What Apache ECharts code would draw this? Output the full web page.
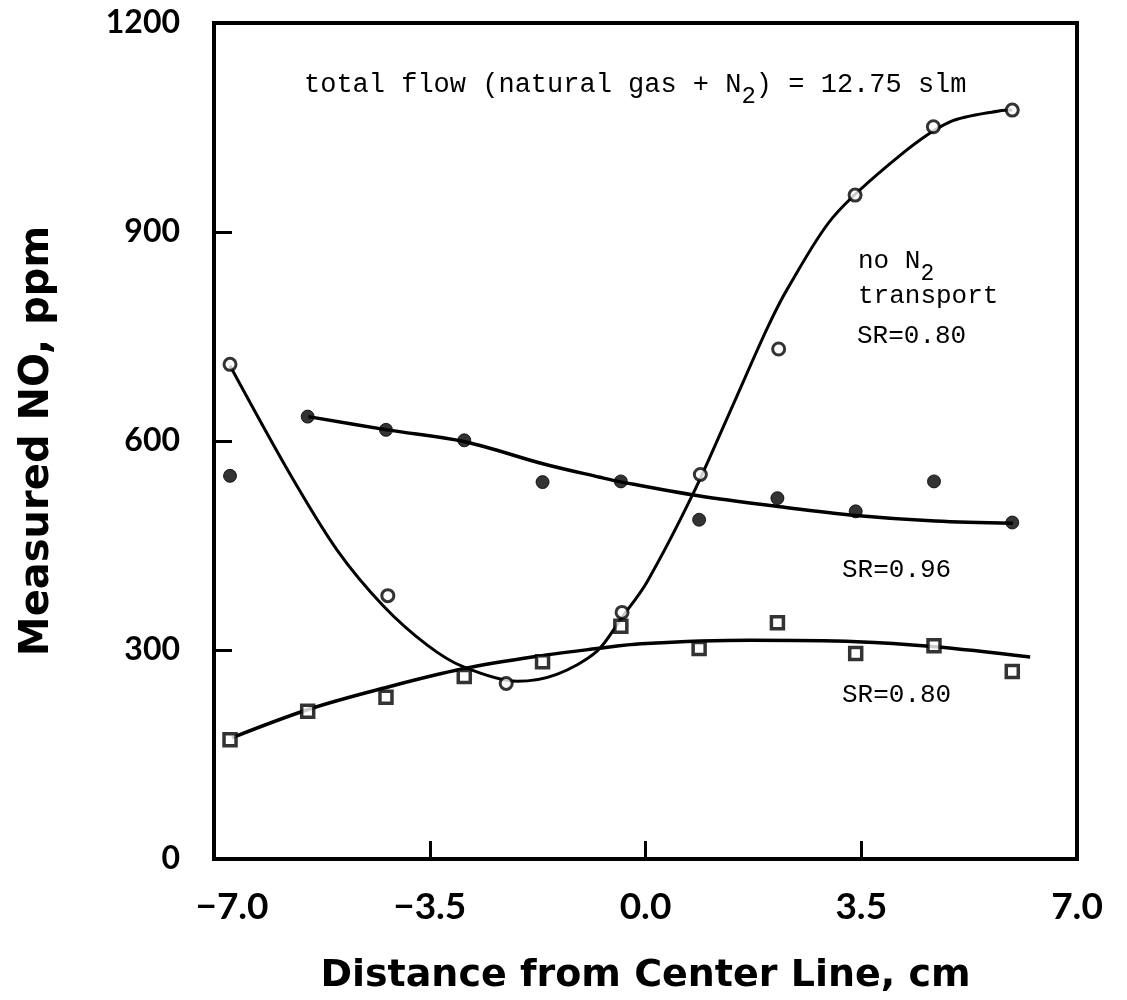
<!DOCTYPE html>
<html>
<head>
<meta charset="utf-8">
<script src="https://cdn.jsdelivr.net/npm/echarts@6/dist/echarts.min.js"></script>
<style>
  html, body { margin: 0; padding: 0; background: #fff; }
  #chart { width: 1127px; height: 1000px; }
</style>
</head>
<body>
<div id="chart"></div>
<script>
// Axis ticks
const xTicks = [-7.0, -3.5, 0.0, 3.5, 7.0];
const yTicks = [0, 300, 600, 900, 1200];

// Measured points: no N2 transport, SR = 0.80 (open circles)
const noN2X = [-6.74, -4.18, -2.26, -0.38, 0.89, 2.16, 3.40, 4.67, 5.95];
const noN2Y = [710, 378, 252, 354, 552, 732, 953, 1051, 1075];

// Measured points: SR = 0.96 (filled circles)
const sr096X = [-6.74, -5.48, -4.21, -2.94, -1.67, -0.40, 0.87, 2.14, 3.41, 4.68, 5.95];
const sr096Y = [550, 635, 616, 601, 541, 542, 487, 518, 499, 542, 483];

// Measured points: SR = 0.80 (open squares)
const sr080X = [-6.74, -5.48, -4.21, -2.94, -1.67, -0.40, 0.87, 2.14, 3.41, 4.68, 5.95];
const sr080Y = [171, 212, 232, 262, 283, 334, 302, 339, 295, 306, 269];

// Hand-drawn fit curves through each data set
const noN2FitX = [-6.74, -5.77, -5.00, -4.26, -3.54, -2.96, -2.08, -1.44, -0.79, -0.38, 0.02, 0.77, 1.42, 1.97, 2.30, 3.04, 4.13, 4.94, 5.75, 5.95];
const noN2FitY = [708, 553, 443, 364, 307, 276, 255, 265, 298, 347, 397, 524, 652, 761, 818, 921, 1010, 1058, 1074, 1075];
const sr096FitX = [-5.47, -4.19, -2.93, -1.65, -0.74, -0.38, 0.88, 2.15, 3.42, 4.70, 5.96];
const sr096FitY = [635, 616, 599, 567, 548, 541, 521, 506, 493, 485, 482];
const sr080FitX = [-6.71, -5.46, -4.26, -2.96, -1.60, -0.79, -0.07, 1.70, 3.43, 4.66, 6.24];
const sr080FitY = [174, 215, 245, 273, 293, 302, 309, 314, 312, 305, 290];

const zip = (xs, ys) => xs.map((x, i) => [x, ys[i]]);

const INK = '#000';
const AXIS_FONT = 'Lato';
const TITLE_FONT = 'DejaVu Sans';
const MONO = 'Liberation Mono';

const chart = echarts.init(document.getElementById('chart'), null, { renderer: 'canvas' });

const monoRich = (size) => ({
  a: { fontFamily: MONO, fontSize: size, color: INK, lineHeight: 30, verticalAlign: 'top' },
  s: { fontFamily: MONO, fontSize: size - 3, color: INK, lineHeight: 22, padding: [14, 0, 0, 0], verticalAlign: 'top' }
});

const option = {
  backgroundColor: '#fff',
  animation: false,
  grid: {
    left: 214, right: 50, top: 23, bottom: 130,
    show: true, borderColor: INK, borderWidth: 4, backgroundColor: 'transparent'
  },
  xAxis: {
    type: 'value',
    min: xTicks[0], max: xTicks[xTicks.length - 1], interval: 3.5,
    name: 'Distance from Center Line, cm',
    nameLocation: 'middle', nameGap: 98,
    nameTextStyle: { fontFamily: TITLE_FONT, fontWeight: 'bold', fontSize: 38, color: INK },
    axisLine: { show: true, onZero: false, lineStyle: { color: INK, width: 4 } },
    axisTick: { show: true, inside: true, length: 18, lineStyle: { color: INK, width: 3 } },
    splitLine: { show: false },
    axisLabel: {
      margin: 30,
      fontFamily: AXIS_FONT, fontWeight: 'bold', fontSize: 37, color: INK,
      formatter: (v) => {
        const s = (v < 0 ? '\u2212' : '') + Math.abs(v).toFixed(1);
        return v === xTicks[0] ? '{first|' + s + '}' : s;
      },
      rich: {
        first: { fontFamily: AXIS_FONT, fontWeight: 'bold', fontSize: 37, color: INK, padding: [0, 0, 0, 36] }
      }
    }
  },
  yAxis: {
    type: 'value',
    min: yTicks[0], max: yTicks[yTicks.length - 1], interval: 300,
    name: 'Measured NO, ppm',
    nameLocation: 'middle', nameGap: 156, nameRotate: 90,
    nameTextStyle: { fontFamily: TITLE_FONT, fontWeight: 'bold', fontSize: 40, color: INK },
    axisLine: { show: true, onZero: false, lineStyle: { color: INK, width: 4 } },
    axisTick: { show: true, inside: true, length: 18, lineStyle: { color: INK, width: 3 } },
    splitLine: { show: false },
    axisLabel: {
      margin: 34,
      fontFamily: AXIS_FONT, fontWeight: 'bold', fontSize: 32, color: INK,
      formatter: (v) => String(v)
    }
  },
  series: [
    {
      name: 'no N2 transport fit', type: 'line', data: zip(noN2FitX, noN2FitY),
      smooth: 0.3, showSymbol: false, symbol: 'none',
      lineStyle: { color: INK, width: 3 }, z: 2
    },
    {
      name: 'SR=0.96 fit', type: 'line', data: zip(sr096FitX, sr096FitY),
      smooth: 0.35, showSymbol: false, symbol: 'none',
      lineStyle: { color: INK, width: 3.5 }, z: 2
    },
    {
      name: 'SR=0.80 fit', type: 'line', data: zip(sr080FitX, sr080FitY),
      smooth: 0.35, showSymbol: false, symbol: 'none',
      lineStyle: { color: INK, width: 3.5 }, z: 2
    },
    {
      name: 'no N2 transport', type: 'scatter', data: zip(noN2X, noN2Y),
      symbol: 'circle', symbolSize: 12,
      itemStyle: { color: '#fff', borderColor: INK, borderWidth: 3 }, z: 5
    },
    {
      name: 'SR=0.96', type: 'scatter', data: zip(sr096X, sr096Y),
      symbol: 'circle', symbolSize: 13,
      itemStyle: { color: INK, borderColor: INK, borderWidth: 1 }, z: 5
    },
    {
      name: 'SR=0.80', type: 'scatter', data: zip(sr080X, sr080Y),
      symbol: 'rect', symbolSize: 12,
      itemStyle: { color: '#fff', borderColor: INK, borderWidth: 3.5 }, z: 5
    }
  ],
  graphic: [
    {
      type: 'text', left: 304, top: 71, z: 10,
      style: {
        text: '{a|total flow (natural gas + N}{s|2}{a|) = 12.75 slm}',
        rich: monoRich(27)
      }
    },
    {
      type: 'text', left: 858, top: 248, z: 10,
      style: { text: '{a|no N}{s|2}', rich: monoRich(26) }
    },
    {
      type: 'text', left: 858, top: 283, z: 10,
      style: { text: 'transport', font: '26px "' + MONO + '"', fill: INK }
    },
    {
      type: 'text', left: 857, top: 323, z: 10,
      style: { text: 'SR=0.80', font: '26px "' + MONO + '"', fill: INK }
    },
    {
      type: 'text', left: 842, top: 557, z: 10,
      style: { text: 'SR=0.96', font: '26px "' + MONO + '"', fill: INK }
    },
    {
      type: 'text', left: 842, top: 682, z: 10,
      style: { text: 'SR=0.80', font: '26px "' + MONO + '"', fill: INK }
    }
  ]
};

chart.setOption(option);
</script>
</body>
</html>
